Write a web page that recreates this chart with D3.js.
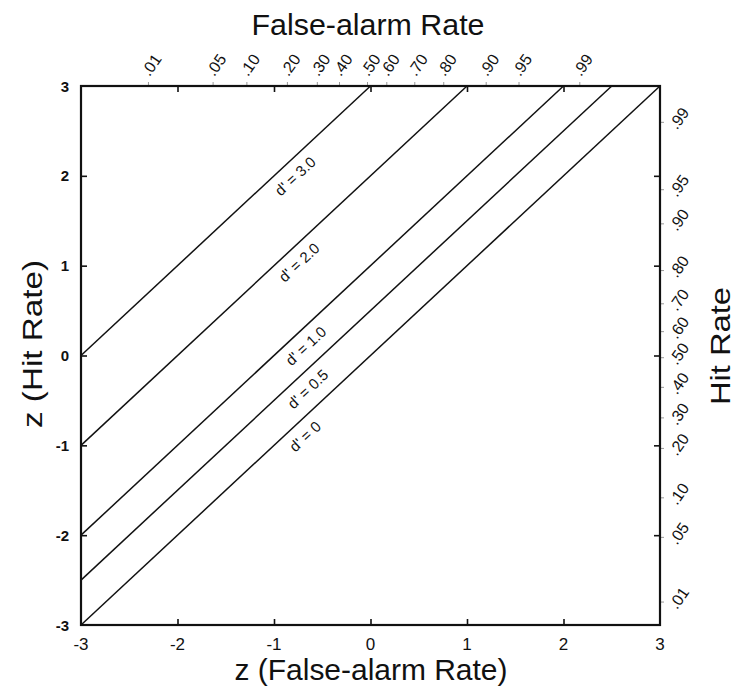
<!DOCTYPE html>
<html>
<head>
<meta charset="utf-8">
<script src="https://cdn.jsdelivr.net/npm/d3@7"></script>
<style>
  html, body { margin: 0; padding: 0; background: #fff; }
  svg { display: block; }
  text { font-family: "Liberation Sans", Arial, sans-serif; fill: #111; }
</style>
</head>
<body>
<svg id="chart" width="735" height="691"></svg>
<script>
// Sensitivity (d') isosensitivity lines in z-coordinates: z(H) = z(F) + d'
const dPrimes = [3.0, 2.0, 1.0, 0.5, 0];
const dPrimeLabels = ["d' = 3.0", "d' = 2.0", "d' = 1.0", "d' = 0.5", "d' = 0"];

// z-axis ticks (both axes)
const zTicks = [-3, -2, -1, 0, 1, 2, 3];

// Probability tick labels and where they sit on the z scale
const faLabels  = [".01", ".05", ".10", ".20", ".30", ".40", ".50", ".60", ".70", ".80", ".90", ".95", ".99"];
const faTickZ   = [-2.27, -1.60, -1.25, -0.83, -0.52, -0.29, 0.0, 0.20, 0.49, 0.79, 1.23, 1.57, 2.20];
const hitLabels = [".99", ".95", ".90", ".80", ".70", ".60", ".50", ".40", ".30", ".20", ".10", ".05", ".01"];
const hitTickZ  = [2.64, 1.89, 1.51, 0.99, 0.62, 0.31, 0.02, -0.31, -0.65, -0.99, -1.54, -1.98, -2.70];

// Where along each line (in z(F)) its label starts
const labelAtZ = [-1.07, -1.03, -0.96, -0.94, -0.92];

const svg = d3.select("#chart");
const plotL = 81, plotR = 660, plotT = 86, plotB = 625;

const x = d3.scaleLinear().domain([-3, 3]).range([plotL, plotR]);
const y = d3.scaleLinear().domain([-3, 3]).range([plotB, plotT]);

// Inward-pointing ticks via d3 axes on all four sides
const tickLen = 6;
function styleAxis(g) {
  g.select(".domain").remove();
  g.selectAll(".tick line").attr("stroke", "#111").attr("stroke-width", 1.6);
  g.selectAll(".tick text").remove();
}
const innerTicks = zTicks.slice(1, -1);
svg.append("g").attr("transform", `translate(0,${plotB})`)
  .call(d3.axisTop(x).tickValues(innerTicks).tickSize(tickLen)).call(styleAxis);
svg.append("g").attr("transform", `translate(0,${plotT})`)
  .call(d3.axisBottom(x).tickValues(innerTicks).tickSize(tickLen)).call(styleAxis);
svg.append("g").attr("transform", `translate(${plotL},0)`)
  .call(d3.axisRight(y).tickValues(innerTicks).tickSize(tickLen)).call(styleAxis);
svg.append("g").attr("transform", `translate(${plotR},0)`)
  .call(d3.axisLeft(y).tickValues(innerTicks).tickSize(tickLen)).call(styleAxis);

// Faint probability ticks outside the frame
svg.append("g").selectAll("line").data(faTickZ).join("line")
  .attr("x1", d => x(d) - 3).attr("x2", d => x(d) - 3)
  .attr("y1", plotT - 4).attr("y2", plotT)
  .attr("stroke", "#999").attr("stroke-width", 1);
svg.append("g").selectAll("line").data(hitTickZ).join("line")
  .attr("x1", plotR).attr("x2", plotR + 4)
  .attr("y1", d => y(d) + 4).attr("y2", d => y(d) + 4)
  .attr("stroke", "#999").attr("stroke-width", 1);

// Bottom z tick labels
svg.append("g").selectAll("text").data(zTicks).join("text")
  .attr("x", d => x(d)).attr("y", 650)
  .attr("text-anchor", "middle")
  .attr("font-size", 17)
  .text(d => d);

// Left z tick labels
svg.append("g").selectAll("text").data(zTicks).join("text")
  .attr("x", 69).attr("y", d => y(d))
  .attr("text-anchor", "end")
  .attr("dominant-baseline", "central")
  .attr("font-size", 15)
  .attr("font-weight", "bold")
  .text(d => d);

// Top probability labels (false-alarm rate)
svg.append("g").selectAll("text").data(faLabels).join("text")
  .attr("transform", (d, i) => `translate(${x(faTickZ[i])},65) rotate(-55)`)
  .attr("text-anchor", "middle")
  .attr("dominant-baseline", "central")
  .attr("font-size", 16)
  .text(d => d);

// Right probability labels (hit rate)
svg.append("g").selectAll("text").data(hitLabels).join("text")
  .attr("transform", (d, i) => `translate(679,${y(hitTickZ[i])}) rotate(-55)`)
  .attr("text-anchor", "middle")
  .attr("dominant-baseline", "central")
  .attr("font-size", 16)
  .text(d => d);

// Isosensitivity lines across the plot square
const line = d3.line().x(d => x(d[0])).y(d => y(d[1]));
svg.append("g").selectAll("path").data(dPrimes).join("path")
  .attr("d", d => line([[-3, -3 + d], [3 - d, 3]]))
  .attr("fill", "none")
  .attr("stroke", "#111")
  .attr("stroke-width", 1.5);

// Line labels, set parallel to each line just below it
const angle = Math.atan2(y(-3) - y(3), x(3) - x(-3)) * 180 / Math.PI;
svg.append("g").selectAll("text").data(dPrimes).join("text")
  .attr("transform", (d, i) => `translate(${x(labelAtZ[i])},${y(labelAtZ[i] + d)}) rotate(${-angle})`)
  .attr("x", 0).attr("y", 20)
  .attr("font-size", 15)
  .text((d, i) => dPrimeLabels[i]);

// Plot frame
svg.append("rect")
  .attr("x", plotL).attr("y", plotT)
  .attr("width", plotR - plotL).attr("height", plotB - plotT)
  .attr("fill", "none").attr("stroke", "#111").attr("stroke-width", 2.2);

// Axis titles
svg.append("text")
  .attr("x", 368).attr("y", 35)
  .attr("text-anchor", "middle").attr("font-size", 30)
  .attr("textLength", 233).attr("lengthAdjust", "spacingAndGlyphs")
  .text("False-alarm Rate");
svg.append("text")
  .attr("x", 371).attr("y", 680)
  .attr("text-anchor", "middle").attr("font-size", 30)
  .attr("textLength", 273).attr("lengthAdjust", "spacingAndGlyphs")
  .text("z (False-alarm Rate)");
svg.append("text")
  .attr("transform", "translate(42,344) rotate(-90)")
  .attr("text-anchor", "middle").attr("font-size", 28)
  .attr("textLength", 168).attr("lengthAdjust", "spacingAndGlyphs")
  .text("z (Hit Rate)");
svg.append("text")
  .attr("transform", "translate(730,346) rotate(-90)")
  .attr("text-anchor", "middle").attr("font-size", 28)
  .attr("textLength", 118).attr("lengthAdjust", "spacingAndGlyphs")
  .text("Hit Rate");
</script>
</body>
</html>
